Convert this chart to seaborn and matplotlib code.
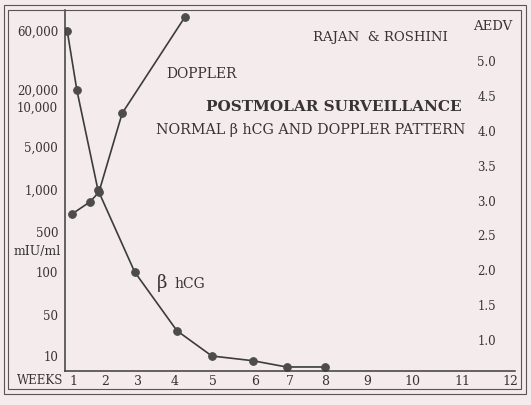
import numpy as np
import pandas as pd
import seaborn as sns
import matplotlib.pyplot as plt
from matplotlib.patches import Rectangle

# beta hCG (mIU/ml) by week
hcg_week = [0.82, 1.12, 1.78, 2.9, 4.05, 4.97, 5.95, 6.9, 8.0]
hcg_value = [60000, 20000, 1000, 100, 27, 10, 5, 2, 2]

# Doppler (AEDV) by week
dop_week = [0.98, 1.53, 1.81, 2.52, 4.26]
dop_value = [2.81, 2.98, 3.12, 4.25, 5.63]

week_ticks = list(range(1, 13))
left_ticks = [60000, 20000, 10000, 5000, 1000, 500, 100, 50, 10]
left_labels = ['60,000', '20,000', '10,000', '5,000', '1,000', '500', '100', '50', '10']
right_ticks = [1.0, 1.5, 2.0, 2.5, 3.0, 3.5, 4.0, 4.5, 5.0]

# the hand drawn axes are not evenly spaced, so the scales follow the drawn ticks
x_knot_week = np.arange(0, 14)
x_knot_px = np.array([41, 73, 105, 138, 175, 213, 255, 290, 325, 367, 412, 462, 510, 558])
y_knot_log = np.log10([1, 10, 50, 100, 500, 1000, 5000, 10000, 20000, 60000, 100000])
y_knot_px = np.array([371.7, 356, 315, 272, 232, 190, 147, 107, 90, 31, 3.5])

def xfwd(w):
    return np.interp(w, x_knot_week, x_knot_px)

def xinv(p):
    return np.interp(p, x_knot_px, x_knot_week)

def yfwd(v):
    v = np.clip(np.asarray(v, dtype=float), 1e-3, None)
    return np.interp(np.log10(v), y_knot_log, -y_knot_px)

def yinv(p):
    return 10 ** np.interp(p, -y_knot_px, y_knot_log)

W, H = 531, 405
bg = '#f3ebec'
ink = '#383434'
line_c = '#3c3c3c'
dot_c = '#4e4b4b'

sns.set_style('white')
plt.rcParams['font.family'] = ['DejaVu Serif']

fig = plt.figure(figsize=(W / 100, H / 100), dpi=100, facecolor=bg)
ax = fig.add_axes([65 / W, 1 - 371 / H, 450 / W, 361 / H])
ax.set_facecolor(bg)

hcg = pd.DataFrame({'week': hcg_week, 'value': hcg_value})
dop = pd.DataFrame({'week': dop_week, 'value': dop_value})

sns.lineplot(data=hcg, x='week', y='value', ax=ax, sort=False, estimator=None,
             color=line_c, lw=1.2, marker='o', markersize=5.5,
             markerfacecolor=dot_c, markeredgecolor=dot_c)

ax.set_xscale('function', functions=(xfwd, xinv))
ax.set_yscale('function', functions=(yfwd, yinv))
ax.set_xlim(xinv(65), xinv(515))
ax.set_ylim(yinv(-371), yinv(-10))

ax2 = ax.twinx()
sns.lineplot(data=dop, x='week', y='value', ax=ax2, sort=False, estimator=None,
             color=line_c, lw=1.2, marker='o', markersize=5.5,
             markerfacecolor=dot_c, markeredgecolor=dot_c)
ax2.set_ylim(1.0 - 31 / 69.75, 1.0 + 330 / 69.75)
ax2.set_xlim(xinv(65), xinv(515))

ax.set_xticks(week_ticks)
ax.set_xticklabels([str(w) for w in week_ticks])
ax.xaxis.set_minor_locator(plt.NullLocator())
ax.set_yticks(left_ticks)
ax.set_yticklabels(left_labels)
ax.yaxis.set_minor_locator(plt.NullLocator())
ax.tick_params(axis='x', length=0, pad=3, labelsize=9, labelcolor=ink)
ax.tick_params(axis='y', length=0, pad=5, labelsize=8.5, labelcolor=ink)

ax2.set_yticks(right_ticks)
ax2.set_yticklabels([f'{t:.1f}' for t in right_ticks])
ax2.tick_params(axis='y', length=0, pad=-27, labelsize=8.5, labelcolor=ink)

for a in (ax, ax2):
    a.set_xlabel('')
    a.set_ylabel('')
    for s in ('top', 'right'):
        a.spines[s].set_visible(False)
ax2.spines['left'].set_visible(False)
ax2.spines['bottom'].set_visible(False)
for s in ('left', 'bottom'):
    ax.spines[s].set_color(line_c)
    ax.spines[s].set_linewidth(1.1)


def ftext(x, y, s, **kw):
    fig.text(x / W, 1 - y / H, s, color=ink, va='center', **kw)


ftext(40, 381, 'WEEKS', ha='center', fontsize=8.5)
ftext(37, 251, 'mIU/ml', ha='center', fontsize=9)
ftext(493, 27, 'AEDV', ha='center', fontsize=9.5)
ftext(380, 37, 'RAJAN  & ROSHINI', ha='center', fontsize=9.5)
ftext(202, 74, 'DOPPLER', ha='center', fontsize=10)
ftext(462, 107, 'POSTMOLAR SURVEILLANCE', ha='right', fontsize=11, fontweight='bold')
ftext(465, 130, 'NORMAL β hCG AND DOPPLER PATTERN', ha='right', fontsize=10.3)
ftext(157, 283, 'β', ha='left', fontsize=13)
ftext(174, 284, 'hCG', ha='left', fontsize=10)

# double frame around the picture
for x0, y0, x1, y1 in [(4, 5, 526, 394), (8, 10, 521, 389)]:
    fig.add_artist(Rectangle((x0 / W, 1 - y1 / H), (x1 - x0) / W, (y1 - y0) / H,
                             transform=fig.transFigure, fill=False,
                             edgecolor='#5a5555', lw=0.8))

fig.savefig('out.png', dpi=100, facecolor=bg)
